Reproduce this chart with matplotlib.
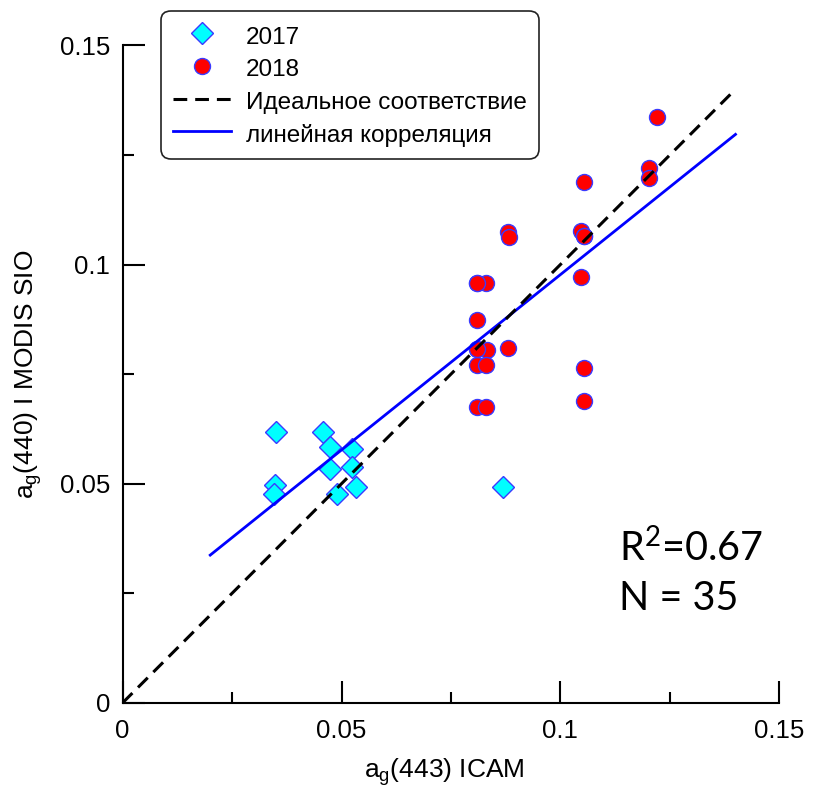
import numpy as np
import matplotlib
matplotlib.use('Agg')
import matplotlib.pyplot as plt
from matplotlib.lines import Line2D
from matplotlib.ticker import MultipleLocator, FormatStrFormatter

plt.rcParams['font.family'] = ['Liberation Sans', 'DejaVu Sans']
plt.rcParams['mathtext.default'] = 'regular'

# ag(443) ICAM vs ag(440) MODIS SIO
x2017 = [0.0350, 0.0457, 0.0474, 0.0525, 0.0474, 0.0523, 0.0349, 0.0346, 0.0489, 0.0534, 0.0868]
y2017 = [0.0619, 0.0619, 0.0583, 0.0580, 0.0534, 0.0539, 0.0498, 0.0477, 0.0477, 0.0492, 0.0492]

x2018 = [0.1220, 0.1202, 0.1202, 0.1054, 0.0880, 0.0882, 0.1046, 0.1054, 0.1046,
         0.0809, 0.0829, 0.0809, 0.0809, 0.0832, 0.0880, 0.0809, 0.0829, 0.1054,
         0.0809, 0.0829, 0.1054, 0.0809, 0.0809, 0.1054]
y2018 = [0.1336, 0.1221, 0.1198, 0.1189, 0.1075, 0.1062, 0.1077, 0.1064, 0.0972,
         0.0958, 0.0958, 0.0874, 0.0807, 0.0806, 0.0809, 0.0771, 0.0771, 0.0764,
         0.0675, 0.0675, 0.0689, 0.0807, 0.0958, 0.1064]

# 1:1 line and the fitted line
ideal_x = [0.0, 0.14]
fit_slope = 0.80
fit_intercept = 0.0177
fit_x = np.array([0.02, 0.14])

r2_text = 'R$^2$=0.67'
n_text = 'N = 35'

fig = plt.figure(figsize=(8.13, 7.9), dpi=100)
ax = fig.add_axes([0.1509, 0.1104, 0.8076, 0.8321])

edge = '#3a3aff'
ax.plot(x2017, y2017, linestyle='none', marker='D', markersize=11,
        markerfacecolor='#00ffff', markeredgecolor=edge, markeredgewidth=1, zorder=3)
ax.plot(x2018, y2018, linestyle='none', marker='o', markersize=11.5,
        markerfacecolor='#ff0000', markeredgecolor=edge, markeredgewidth=1, zorder=3)
ax.plot(ideal_x, ideal_x, color='black', linewidth=2.2, linestyle=(0, (4.5, 2.6)), zorder=5)
ax.plot(fit_x, fit_slope * fit_x + fit_intercept, color='#0000ff', linewidth=2, zorder=4)

ax.set_xlim(0, 0.15)
ax.set_ylim(0, 0.15)
ax.spines['top'].set_visible(False)
ax.spines['right'].set_visible(False)
ax.spines['left'].set_linewidth(1.5)
ax.spines['bottom'].set_linewidth(1.5)

for axis in (ax.xaxis, ax.yaxis):
    axis.set_major_locator(MultipleLocator(0.05))
    axis.set_minor_locator(MultipleLocator(0.025))
    axis.set_major_formatter(FormatStrFormatter('%g'))

ax.tick_params(which='major', direction='in', length=15.8, width=1.5, labelsize=18.6)
ax.tick_params(which='minor', direction='in', length=8, width=1.5)
ax.tick_params(axis='x', which='major', pad=11.5)
ax.tick_params(axis='y', which='major', pad=9.1)

ax.set_xlabel('a$_g$(443) ICAM', fontsize=19)
ax.set_ylabel('a$_g$(440) I MODIS SIO', fontsize=19)
ax.xaxis.set_label_coords(0.49, -0.081)
ax.yaxis.set_label_coords(-0.12, 0.5)

ax.text(0.7563, 0.2145, r2_text, transform=ax.transAxes, fontsize=28.5,
        family=['Lato', 'DejaVu Sans'], va='baseline', ha='left')
ax.text(0.7563, 0.141, n_text, transform=ax.transAxes, fontsize=28.5,
        family=['Lato', 'DejaVu Sans'], va='baseline', ha='left')

handles = [
    Line2D([], [], linestyle='none', marker='D', markersize=11,
           markerfacecolor='#00ffff', markeredgecolor=edge, markeredgewidth=1),
    Line2D([], [], linestyle='none', marker='o', markersize=11.5,
           markerfacecolor='#ff0000', markeredgecolor=edge, markeredgewidth=1),
    Line2D([], [], color='black', linewidth=2.2, linestyle=(0, (4.5, 2.6))),
    Line2D([], [], color='#0000ff', linewidth=2),
]
labels = ['2017', '2018', 'Идеальное соответствие', 'линейная корреляция']
leg = fig.legend(handles, labels, loc='upper left',
                 bbox_to_anchor=(161.3 / 813, 1 - 10.7 / 790),
                 bbox_transform=fig.transFigure, borderaxespad=0,
                 fontsize=17.5, handlelength=2.36, handletextpad=0.62,
                 handleheight=1.2, labelspacing=0.29, borderpad=0.5,
                 numpoints=1, fancybox=True, framealpha=1, edgecolor='#222222')
leg.get_frame().set_linewidth(1.2)
leg.get_frame().set_boxstyle('round', pad=0, rounding_size=0.4)

fig.savefig('out.png', dpi=100)
